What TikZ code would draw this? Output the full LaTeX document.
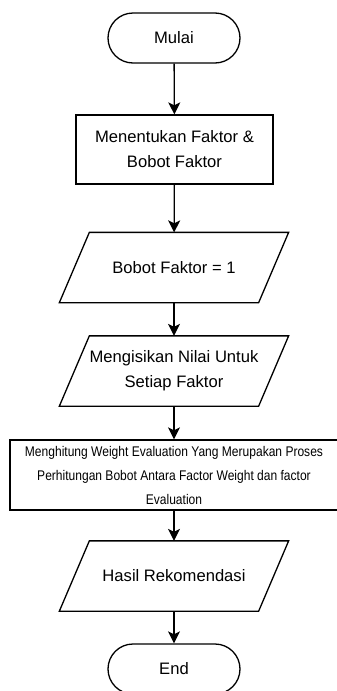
\documentclass[tikz,border=0pt]{standalone}
\usepackage{fontspec}
\setmainfont{Liberation Sans}
\newfontfamily\narrowfont[FakeStretch=0.86]{Liberation Sans}
\usetikzlibrary{arrows.meta}

\tikzset{
	base/.style={draw, line width=1.3pt, font=\fontsize{16.6}{25}\selectfont, align=center, inner sep=0pt},
	terminal/.style={base, rectangle, rounded corners=25pt, minimum width=132pt, minimum height=50pt},
	process/.style={base, rectangle, minimum width=197pt, minimum height=69pt},
	io/.style={base, draw=none, rectangle, minimum width=198pt, minimum height=69pt},
	flow/.style={line width=1.3pt, -{Stealth[length=12pt, width=12pt, inset=3pt]}}
}

\begin{document}
\begin{tikzpicture}[x=1pt, y=-1pt]
	\useasboundingbox (0,0) rectangle (337,691);

\node[terminal] (mulai) at (174,38) {Mulai};
\node[process] (faktor) at (174.5,149.5) {Menentukan Faktor \&\\Bobot Faktor};
\node[io] (bobot) at (174,267.5) {\raisebox{-4pt}{Bobot Faktor = 1}};
\node[io] (nilai) at (174,371) {Mengisikan Nilai Untuk\\Setiap Faktor};
\node[process, minimum width=328pt, minimum height=70pt, font=\narrowfont\fontsize{14}{24}\selectfont] (hitung) at (174,475) {Menghitung Weight Evaluation Yang Merupakan Proses\\Perhitungan Bobot Antara Factor Weight dan factor\\Evaluation};
\node[io] (hasil) at (174,576) {Hasil Rekomendasi};
\node[terminal] (selesai) at (174,669) {End};

	% slanted outlines of the input/output nodes
	\foreach \n in {bobot, nilai, hasil}
		\draw[line width=1.3pt] ([xshift=-15pt]\n.south west) -- ([xshift=15pt]\n.north west) -- ([xshift=15pt]\n.north east) -- ([xshift=-15pt]\n.south east) -- cycle;

	\draw[flow] (mulai) -- (faktor);
	\draw[flow] (faktor) -- (bobot);
	\draw[flow] (bobot) -- (nilai);
	\draw[flow] (nilai) -- (hitung);
	\draw[flow] (hitung) -- (hasil);
	\draw[flow] (hasil) -- (selesai);

\end{tikzpicture}
\end{document}
